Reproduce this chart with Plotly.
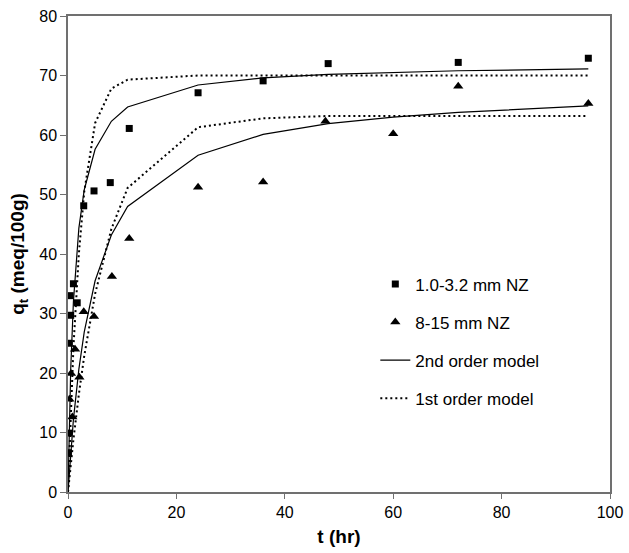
import plotly.graph_objects as go

# Experimental data
t_small = [0.08, 0.17, 0.25, 0.4, 0.5, 1.0, 1.7, 2.9, 4.8, 7.8, 11.3, 24, 36, 48, 72, 96]
q_small = [6.6, 9.9, 25.0, 33.0, 29.7, 35.0, 31.8, 48.1, 50.6, 52.0, 61.1, 67.1, 69.1, 72.0, 72.2, 72.9]

t_large = [0.25, 0.55, 0.8, 1.3, 2.1, 2.9, 4.8, 8.1, 11.3, 24, 36, 47.5, 60, 72, 96]
q_large = [15.6, 19.9, 12.6, 24.0, 19.3, 30.3, 29.5, 36.2, 42.6, 51.2, 52.1, 62.3, 60.2, 68.2, 65.3]

# Model curves (at the plotted times)
t_model = [0, 0.25, 0.5, 1, 2, 3, 5, 8, 11, 24, 36, 48, 60, 72, 96]
q2_small = [0, 12.0, 20.6, 32.0, 44.3, 50.8, 57.6, 62.3, 64.7, 68.4, 69.6, 70.2, 70.5, 70.8, 71.1]
q1_small = [0, 6.9, 13.3, 24.3, 40.0, 50.5, 62.0, 67.8, 69.3, 70.0, 70.0, 70.0, 70.0, 70.0, 70.0]
q2_large = [0, 3.5, 6.7, 12.2, 20.6, 26.9, 35.5, 43.2, 48.0, 56.6, 60.1, 61.9, 63.0, 63.8, 64.9]
q1_large = [0, 2.3, 4.6, 8.8, 16.4, 22.9, 33.3, 44.2, 51.1, 61.3, 62.8, 63.2, 63.2, 63.2, 63.2]

x_ticks = [0, 20, 40, 60, 80, 100]
y_ticks = [0, 10, 20, 30, 40, 50, 60, 70, 80]

FONT = "Liberation Sans, Arial, Helvetica, sans-serif"
AX = "#707070"
solid = dict(color="black", width=1.2)
dotted = dict(color="black", width=2, dash="2px,3px")

fig = go.Figure()
fig.add_trace(go.Scatter(x=t_model, y=q2_small, mode="lines", line=solid,
                         name="2nd order model", legendgroup="c", legendrank=3))
fig.add_trace(go.Scatter(x=t_model, y=q2_large, mode="lines", line=solid,
                         showlegend=False, legendgroup="c"))
fig.add_trace(go.Scatter(x=t_model, y=q1_small, mode="lines", line=dotted,
                         name="1st order model", legendgroup="d", legendrank=4))
fig.add_trace(go.Scatter(x=t_model, y=q1_large, mode="lines", line=dotted,
                         showlegend=False, legendgroup="d"))
fig.add_trace(go.Scatter(x=t_small, y=q_small, mode="markers",
                         marker=dict(symbol="square", size=7, color="black"),
                         name="1.0-3.2 mm NZ", legendgroup="a", legendrank=1))
fig.add_trace(go.Scatter(x=t_large, y=q_large, mode="markers",
                         marker=dict(symbol="triangle-up", size=9, color="black"),
                         name="8-15 mm NZ", legendgroup="b", legendrank=2))

fig.update_layout(
    width=629, height=553,
    margin=dict(l=68, r=19, t=16, b=61, autoexpand=False),
    paper_bgcolor="white", plot_bgcolor="white",
    font=dict(family=FONT, color="black", size=16),
    legend=dict(x=0.567, y=0.474, xanchor="left", yanchor="top",
                font=dict(size=17), tracegroupgap=13,
                bgcolor="rgba(0,0,0,0)"),
    xaxis=dict(range=[0, 100], tickvals=x_ticks, showgrid=False, zeroline=False,
               showline=True, linecolor=AX, linewidth=1.5, mirror=True,
               ticks="outside", ticklen=5, tickcolor=AX, automargin=False,
               tickfont=dict(size=16),
               title=dict(text="<b>t (hr)</b>", font=dict(size=19), standoff=10)),
    yaxis=dict(range=[0, 80], tickvals=y_ticks, showgrid=False, zeroline=False,
               showline=True, linecolor=AX, linewidth=1.5, mirror=True,
               ticks="outside", ticklen=6, tickcolor=AX, automargin=False,
               tickfont=dict(size=16),
               title=dict(text="<b>q<sub>t</sub> (meq/100g)</b>", font=dict(size=19), standoff=10)),
)

fig.write_html("out.html", config={"displayModeBar": False})

# remove the browser's default page margin so the figure sits at (0, 0)
with open("out.html", "r", encoding="utf-8") as f:
    html = f.read()
html = html.replace("<head>", "<head><style>html,body{margin:0;padding:0;}</style>", 1)
with open("out.html", "w", encoding="utf-8") as f:
    f.write(html)
